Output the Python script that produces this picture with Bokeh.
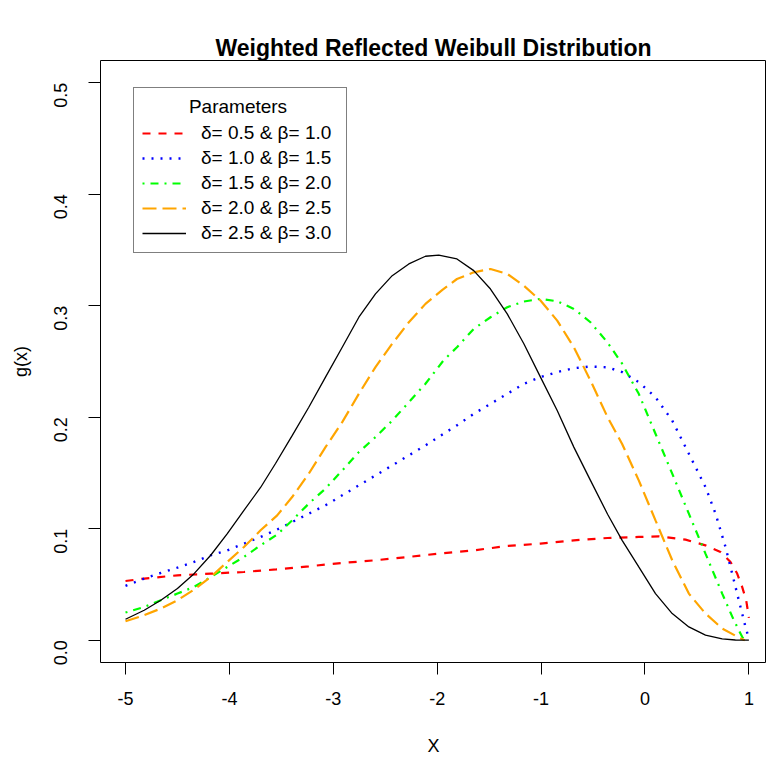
import math
from bokeh.plotting import figure
from bokeh.models import Range1d, FixedTicker, Legend, LegendItem, Label, Title
from bokeh.embed import file_html
from bokeh.resources import INLINE

# ---------------- data ----------------
title_text = "Weighted Reflected Weibull Distribution"
x_ticks = [-5, -4, -3, -2, -1, 0, 1]
x_tick_labels = ["-5", "-4", "-3", "-2", "-1", "0", "1"]
y_ticks = [0.0, 0.1, 0.2, 0.3, 0.4, 0.5]
y_tick_labels = ["0.0", "0.1", "0.2", "0.3", "0.4", "0.5"]

legend_title = "Parameters"
labels = ["δ= 0.5 & β= 1.0", "δ= 1.0 & β= 1.5", "δ= 1.5 & β= 2.0",
          "δ= 2.0 & β= 2.5", "δ= 2.5 & β= 3.0"]

red_x = [-5.0, -4.82, -4.50, -4.18, -3.86, -3.55, -3.236, -2.914, -2.594, -2.273,
         -1.985, -1.648, -1.326, -1.006, -0.685, -0.36, -0.06, 0.133, 0.39, 0.582,
         0.727, 0.823, 0.887, 0.935, 0.974, 0.994, 1.0]
red_y = [0.0531, 0.0553, 0.0582, 0.0597, 0.0612, 0.0635, 0.0663, 0.0693, 0.0717, 0.0747,
         0.0777, 0.0806, 0.0845, 0.0866, 0.0896, 0.0917, 0.0926, 0.0932, 0.0902, 0.0851,
         0.0791, 0.0702, 0.0598, 0.0478, 0.0358, 0.0239, 0.020]

blue_x = [-5.0, -4.82, -4.66, -4.50, -4.34, -4.18, -4.02, -3.86, -3.70, -3.54,
          -3.396, -3.236, -3.075, -2.914, -2.754, -2.594, -2.433, -2.273, -2.113, -1.95,
          -1.81, -1.648, -1.487, -1.326, -1.166, -1.006, -0.845, -0.685, -0.525, -0.36,
          -0.22, -0.06, 0.101, 0.262, 0.422, 0.582, 0.679, 0.775, 0.855, 0.919,
          0.967, 1.0]
blue_y = [0.0487, 0.0553, 0.0603, 0.0651, 0.0702, 0.0762, 0.0806, 0.0866, 0.0926, 0.0993,
          0.106, 0.1135, 0.121, 0.130, 0.1389, 0.1478, 0.1568, 0.1658, 0.1747, 0.1845,
          0.1927, 0.2031, 0.212, 0.221, 0.230, 0.236, 0.2405, 0.244, 0.2455, 0.2448,
          0.2405, 0.2315, 0.218, 0.197, 0.1673, 0.1374, 0.1135, 0.0836, 0.0538, 0.0298,
          0.0119, 0.0015]

green_x = [-5.0, -4.82, -4.66, -4.50, -4.34, -4.18, -4.02, -3.86, -3.70, -3.54,
           -3.396, -3.236, -3.075, -2.914, -2.754, -2.594, -2.433, -2.273, -2.113, -1.94,
           -1.81, -1.648, -1.487, -1.326, -1.166, -1.006, -0.845, -0.685, -0.525, -0.36,
           -0.22, -0.06, 0.101, 0.262, 0.422, 0.582, 0.743, 0.855, 0.935, 0.96]
green_y = [0.0248, 0.0298, 0.0358, 0.0418, 0.0478, 0.0567, 0.0657, 0.0747, 0.0851, 0.0948,
           0.1075, 0.1225, 0.136, 0.1523, 0.1687, 0.1822, 0.197, 0.2135, 0.230, 0.2509,
           0.2628, 0.2793, 0.2897, 0.2987, 0.3038, 0.3062, 0.304, 0.2972, 0.2852, 0.267,
           0.248, 0.221, 0.1852, 0.1494, 0.1135, 0.0777, 0.0418, 0.0179, 0.003, 0.0]

orange_x = [-5.0, -4.82, -4.66, -4.50, -4.34, -4.18, -4.02, -3.86, -3.70, -3.54,
            -3.396, -3.236, -3.075, -2.914, -2.754, -2.594, -2.433, -2.273, -2.113, -1.95,
            -1.81, -1.648, -1.487, -1.326, -1.166, -1.006, -0.845, -0.685, -0.525, -0.36,
            -0.22, -0.06, 0.101, 0.262, 0.422, 0.582, 0.743, 0.903, 0.96]
orange_y = [0.017, 0.0224, 0.0284, 0.0358, 0.0454, 0.0567, 0.0702, 0.0836, 0.0986, 0.112,
            0.1284, 0.1494, 0.1732, 0.1956, 0.221, 0.245, 0.2659, 0.2852, 0.3017, 0.3143,
            0.324, 0.330, 0.333, 0.3286, 0.318, 0.3047, 0.2867, 0.2628, 0.233, 0.200,
            0.176, 0.1434, 0.1075, 0.0717, 0.0418, 0.0239, 0.0105, 0.0024, 0.0]

black_x = [-5.0, -4.82, -4.66, -4.50, -4.34, -4.18, -4.02, -3.86, -3.70, -3.556,
           -3.396, -3.236, -3.075, -2.914, -2.754, -2.594, -2.433, -2.273, -2.113, -1.985,
           -1.81, -1.648, -1.487, -1.326, -1.166, -1.006, -0.845, -0.685, -0.525, -0.36,
           -0.22, -0.06, 0.101, 0.262, 0.422, 0.582, 0.743, 0.87, 1.0]
black_y = [0.0188, 0.0269, 0.0358, 0.0463, 0.0597, 0.0762, 0.0956, 0.1165, 0.1370, 0.1585,
           0.1835, 0.209, 0.236, 0.2628, 0.2897, 0.3107, 0.327, 0.3375, 0.3444, 0.3455,
           0.342, 0.3315, 0.315, 0.2927, 0.2659, 0.236, 0.206, 0.1732, 0.1434, 0.113,
           0.0896, 0.0657, 0.0418, 0.0239, 0.0119, 0.0045, 0.0012, 0.0002, 0.0]

FONT = "Liberation Sans"

p = figure(width=766, height=760, output_backend="svg", toolbar_location=None,
           x_range=Range1d(-5.2406, 1.1694), y_range=Range1d(-0.02, 0.52),
           min_border_left=100, min_border_right=0, min_border_top=60,
           min_border_bottom=98)

# the built-in title stays empty; the real title is added first (outermost)
# and an invisible spacer is added after it (next to the frame)
p.title.text = ""
main_title = Title(text=title_text, align="center", offset=3, text_font=FONT,
                   text_font_size="23px", text_font_style="bold",
                   text_color="black", standoff=0)
p.add_layout(main_title, "above")
spacer = Title(text=".", text_font_size="10px", standoff=17, text_alpha=0.0)
p.add_layout(spacer, "above")

p.grid.visible = False
p.outline_line_color = "black"
p.outline_line_width = 1
p.background_fill_color = "white"
p.border_fill_color = "white"

# axes
p.xaxis.ticker = FixedTicker(ticks=x_ticks)
p.xaxis.major_label_overrides = {t: l for t, l in zip(x_ticks, x_tick_labels)}
p.yaxis.ticker = FixedTicker(ticks=y_ticks)
p.yaxis.major_label_overrides = {t: l for t, l in zip(y_ticks, y_tick_labels)}
p.yaxis.major_label_orientation = math.pi / 2

for ax in (p.xaxis[0], p.yaxis[0]):
    ax.axis_line_color = None
    ax.major_tick_out = 12
    ax.major_tick_in = 0
    ax.minor_tick_line_color = None
    ax.major_tick_line_color = "black"
    ax.major_label_text_font = FONT
    ax.major_label_text_font_size = "18px"
    ax.major_label_text_color = "black"
    ax.axis_label_text_font = FONT
    ax.axis_label_text_font_size = "18px"
    ax.axis_label_text_font_style = "normal"
    ax.axis_label_text_color = "black"

p.xaxis.axis_label = "X"
p.yaxis.axis_label = "g(x)"
p.xaxis.major_label_standoff = 17
p.xaxis.axis_label_standoff = 28
p.yaxis.major_label_standoff = 28
p.yaxis.axis_label_standoff = 14

r_red = p.line(red_x, red_y, line_color="#FF0000", line_width=2.2, line_dash="8 8")
r_blue = p.line(blue_x, blue_y, line_color="#0000FF", line_width=2.4, line_dash="2 7")
r_green = p.line(green_x, green_y, line_color="#00FF00", line_width=2.2, line_dash="2 6 8 6")
r_orange = p.line(orange_x, orange_y, line_color="#FFA500", line_width=2.2, line_dash="14 6")
r_black = p.line(black_x, black_y, line_color="black", line_width=1.3)

# centred legend title (Bokeh legend titles are left aligned); drawn under a
# transparent legend box
title_label = Label(x=-3.917, y=0.4787, text=legend_title, text_align="center",
                    text_baseline="middle", text_font=FONT, text_font_size="19px",
                    text_color="black")
p.add_layout(title_label)

renderers = [r_red, r_blue, r_green, r_orange, r_black]
legend = Legend(items=[LegendItem(label=l, renderers=[r]) for l, r in zip(labels, renderers)],
                location=(33, 409), title=legend_title)
legend.title_text_font = FONT
legend.title_text_font_size = "19px"
legend.title_text_font_style = "normal"
legend.title_text_alpha = 0.0
legend.title_standoff = 4
legend.label_text_font = FONT
legend.label_text_font_size = "19px"
legend.label_text_color = "black"
legend.border_line_color = "black"
legend.border_line_width = 1
legend.background_fill_alpha = 0.0
legend.padding = 8
legend.margin = 0
legend.spacing = 3
legend.glyph_width = 44
legend.glyph_height = 22
legend.label_height = 22
legend.label_width = 137
legend.label_standoff = 15
p.add_layout(legend)

open("out.html", "w").write(file_html(p, INLINE))
